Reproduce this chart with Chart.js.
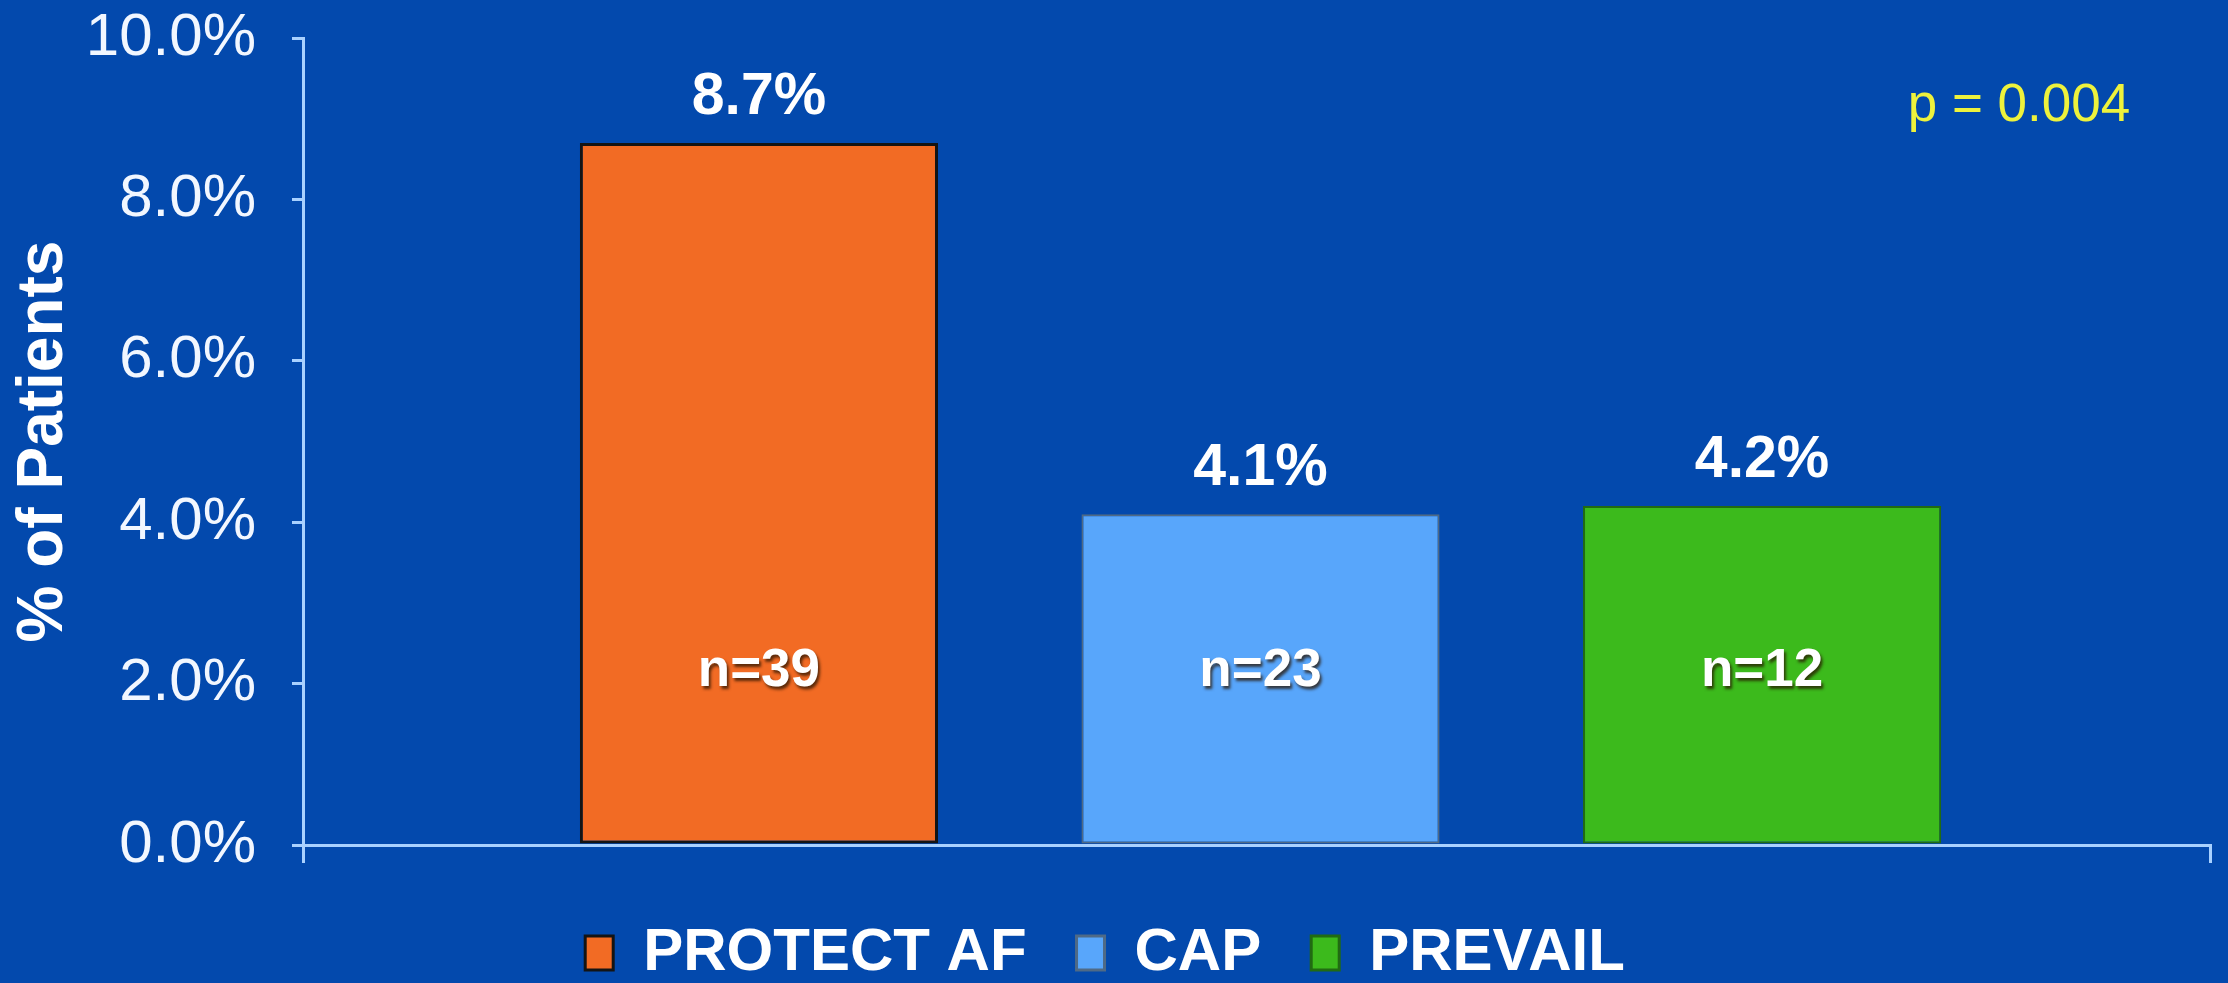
<!DOCTYPE html>
<html>
<head>
<meta charset="utf-8">
<script src="https://cdn.jsdelivr.net/npm/chart.js@4/dist/chart.umd.min.js"></script>
<style>
  html, body { margin: 0; padding: 0; background: #0349ad; overflow: hidden; }
  #wrap { width: 2228px; height: 983px; position: relative; }
</style>
</head>
<body>
<div id="wrap"><canvas id="chart"></canvas></div>
<script>
// data
const categories = ["PROTECT AF", "CAP", "PREVAIL"];
const values = [8.7, 4.1, 4.2];
const counts = [39, 23, 12];
const yTicks = [0, 2, 4, 6, 8, 10];
const pValueText = "p = 0.004";

const barColors = ["#f26b24", "#58a6fb", "#3cba1c"];
const barBorders = ["#141414", "#4f6a86", "#216b12"];
const axisColor = "#a9d1ff";
const FONT = "'Liberation Sans', Arial, sans-serif";

// value labels above bars, n= inside bars, p-value top right
const labelPlugin = {
  id: "barLabels",
  afterDatasetsDraw(chart) {
    const ctx = chart.ctx;
    const meta = chart.getDatasetMeta(0);
    const yScale = chart.scales.y;
    ctx.save();
    ctx.textAlign = "center";
    ctx.textBaseline = "middle";
    meta.data.forEach((bar, i) => {
      ctx.fillStyle = "#ffffff";
      ctx.font = "bold 59px " + FONT;
      ctx.fillText(values[i].toFixed(1) + "%", bar.x, bar.y - 45);

      ctx.save();
      ctx.shadowColor = "rgba(40,20,0,0.75)";
      ctx.shadowOffsetX = 2;
      ctx.shadowOffsetY = 3;
      ctx.shadowBlur = 3;
      ctx.font = "bold 53px " + FONT;
      ctx.fillText("n=" + counts[i], bar.x, yScale.getPixelForValue(2.15));
      ctx.restore();
    });
    ctx.fillStyle = "#eef23c";
    ctx.font = "53px " + FONT;
    ctx.fillText(pValueText, chart.chartArea.right - 191, yScale.getPixelForValue(9.15));
    ctx.restore();
  }
};

const ctx = document.getElementById("chart").getContext("2d");
new Chart(ctx, {
  type: "bar",
  data: {
    datasets: [{
      data: values.map((v, i) => ({ x: i, y: v })),
      backgroundColor: barColors,
      borderColor: barBorders,
      borderWidth: [3, 2, 2],
      borderSkipped: false,
      categoryPercentage: 1,
      barPercentage: 0.714
    }]
  },
  options: {
    responsive: true,
    maintainAspectRatio: false,
    animation: false,
    layout: { padding: { top: 38, right: 18, left: 0, bottom: 0 } },
    scales: {
      x: {
        type: "linear",
        min: -0.909,
        max: 2.893,
        offset: false,
        z: 1,
        afterBuildTicks: (scale) => {
          scale.ticks = [{ value: scale.min }, { value: scale.max }];
        },
        afterFit: (scale) => { scale.height = 28; },
        ticks: { display: false },
        grid: {
          offset: false,
          drawOnChartArea: false,
          drawTicks: true,
          tickLength: 18,
          color: axisColor,
          lineWidth: 3
        },
        border: { display: true, color: axisColor, width: 3 }
      },
      y: {
        min: 0,
        max: 10,
        z: 1,
        afterBuildTicks: (scale) => {
          scale.ticks = yTicks.map(v => ({ value: v }));
        },
        afterFit: (scale) => {
          scale.width = 303;
          // label padding shouldn't push the plot top down
          scale.paddingTop = 0;
          scale.paddingBottom = 0;
        },
        ticks: {
          color: "#f2f7ff",
          padding: 36,
          font: { family: FONT, size: 60 },
          callback: (v) => v.toFixed(1) + "%"
        },
        grid: {
          drawOnChartArea: false,
          drawTicks: true,
          tickLength: 11,
          color: axisColor,
          lineWidth: 3
        },
        border: { display: true, color: axisColor, width: 3 },
        title: {
          display: true,
          text: "% of Patients",
          color: "#ffffff",
          padding: 6,
          font: { family: FONT, size: 64, weight: "bold" }
        }
      }
    },
    plugins: {
      tooltip: { enabled: false },
      legend: {
        display: true,
        position: "bottom",
        maxHeight: 110,
        labels: {
          color: "#ffffff",
          padding: 50,
          boxWidth: 28,
          boxHeight: 34,
          font: { family: FONT, size: 60, weight: "bold" },
          generateLabels: (chart) => categories.map((name, i) => ({
            text: name,
            fillStyle: barColors[i],
            strokeStyle: barBorders[i],
            lineWidth: 3,
            fontColor: "#ffffff",
            hidden: false,
            index: i,
            datasetIndex: 0
          }))
        }
      }
    }
  },
  plugins: [labelPlugin]
});
</script>
</body>
</html>
